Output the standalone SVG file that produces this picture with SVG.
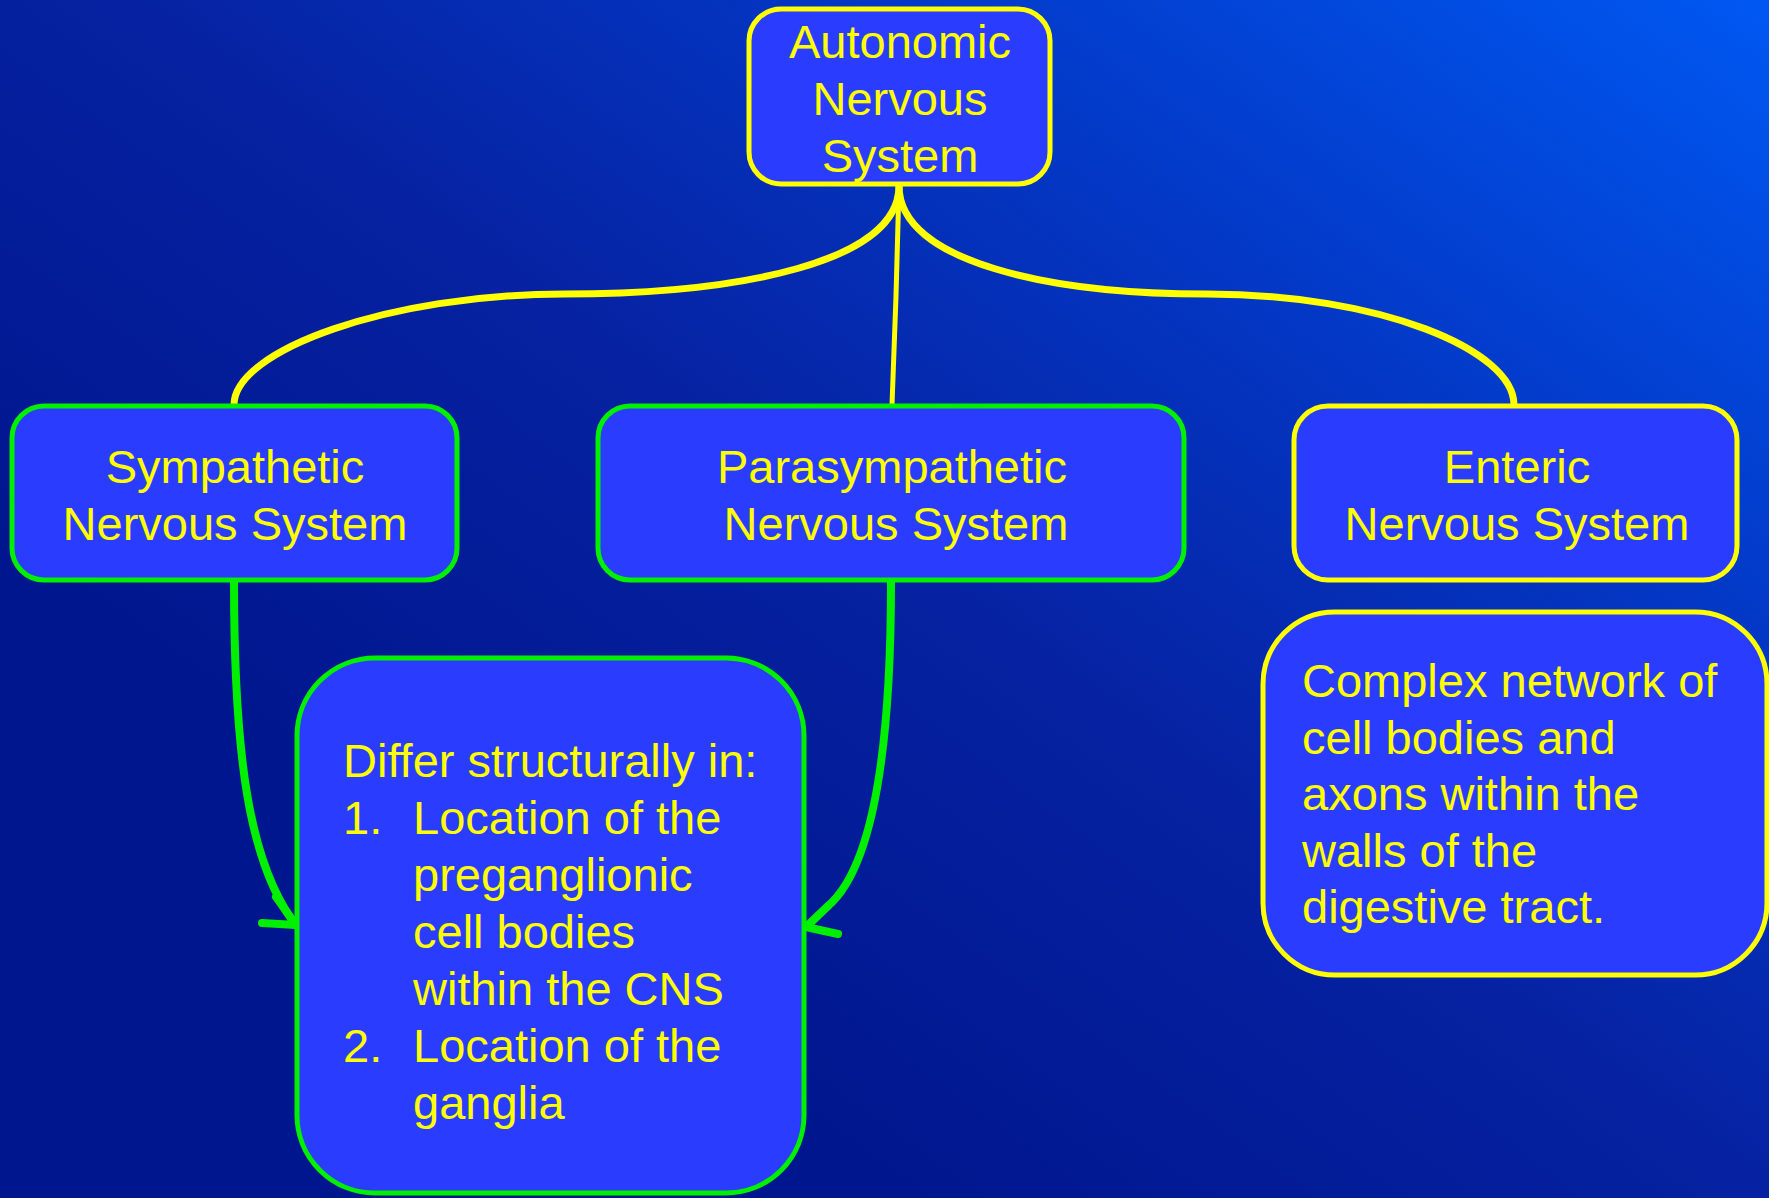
<svg xmlns="http://www.w3.org/2000/svg" width="1769" height="1198" viewBox="0 0 1769 1198">
  <defs>
    <linearGradient id="bg" gradientUnits="userSpaceOnUse" x1="1769" y1="0" x2="900" y2="1198">
      <stop offset="0" stop-color="#0058f2"/>
      <stop offset="0.35" stop-color="#0338c6"/>
      <stop offset="0.65" stop-color="#0622a2"/>
      <stop offset="1" stop-color="#00168e"/>
    </linearGradient>
  </defs>
  <style>
    .box { fill: #2a3dff; stroke-width: 5; }
    .y { stroke: #ffff00; }
    .g { stroke: #00f000; }
    .t { font-family: "Liberation Sans", Arial, sans-serif; font-size: 47px; fill: #ffff00; }
    .c { text-anchor: middle; }
    .yc { fill: none; stroke: #ffff00; stroke-width: 7; stroke-linecap: round; stroke-linejoin: round; }
    .gc { fill: none; stroke: #00f000; stroke-width: 8; stroke-linecap: round; stroke-linejoin: round; }
  </style>
  <rect x="0" y="0" width="1769" height="1198" fill="url(#bg)"/>

  <g id="connectors">
    <path class="yc" d="M 899 186 C 899 262 740 294 564 294 C 390 294 234 350 234 405"/>
    <path class="yc" d="M 899 186 C 899 262 1050 294 1207 294 C 1380 294 1514 350 1514 405"/>
    <path class="yc" style="stroke-width:5" d="M 899 186 L 896 296 L 892 405"/>
    <path class="gc" d="M 234 582 C 234 760 250 860 292 920"/>
    <path class="gc" d="M 276 897 L 296 925 L 262 923"/>
    <path class="gc" d="M 891 582 C 891 760 870 870 828 906"/>
    <path class="gc" d="M 828 906 L 806 927 L 838 934"/>
  </g>

  <g id="autonomic">
    <rect class="box y" x="749" y="9" width="301" height="175" rx="32"/>
    <text class="t c" x="900" y="58">Autonomic</text>
    <text class="t c" x="900" y="115">Nervous</text>
    <text class="t c" x="900" y="172">System</text>
  </g>

  <g id="sympathetic">
    <rect class="box g" x="12" y="406" width="445" height="174" rx="32"/>
    <text class="t c" x="235" y="483">Sympathetic</text>
    <text class="t c" x="235" y="540">Nervous System</text>
  </g>

  <g id="parasympathetic">
    <rect class="box g" x="598" y="406" width="586" height="174" rx="32"/>
    <text class="t c" x="892" y="483">Parasympathetic</text>
    <text class="t c" x="896" y="540">Nervous System</text>
  </g>

  <g id="enteric">
    <rect class="box y" x="1294" y="406" width="443" height="174" rx="34"/>
    <text class="t c" x="1517" y="483">Enteric</text>
    <text class="t c" x="1517" y="540">Nervous System</text>
  </g>

  <g id="differ">
    <rect class="box g" x="297" y="658" width="507" height="535" rx="78"/>
    <text class="t" x="343" y="777">Differ structurally in:</text>
    <text class="t" x="343" y="834">1.</text>
    <text class="t" x="413" y="834">Location of the</text>
    <text class="t" x="413" y="891">preganglionic</text>
    <text class="t" x="413" y="948">cell bodies</text>
    <text class="t" x="413" y="1005">within the CNS</text>
    <text class="t" x="343" y="1062">2.</text>
    <text class="t" x="413" y="1062">Location of the</text>
    <text class="t" x="413" y="1119">ganglia</text>
  </g>

  <g id="enteric-desc">
    <rect class="box y" x="1263" y="612" width="504" height="363" rx="72"/>
    <text class="t" x="1302" y="697">Complex network of</text>
    <text class="t" x="1302" y="754">cell bodies and</text>
    <text class="t" x="1302" y="810">axons within the</text>
    <text class="t" x="1302" y="867">walls of the</text>
    <text class="t" x="1302" y="923">digestive tract.</text>
  </g>
</svg>
